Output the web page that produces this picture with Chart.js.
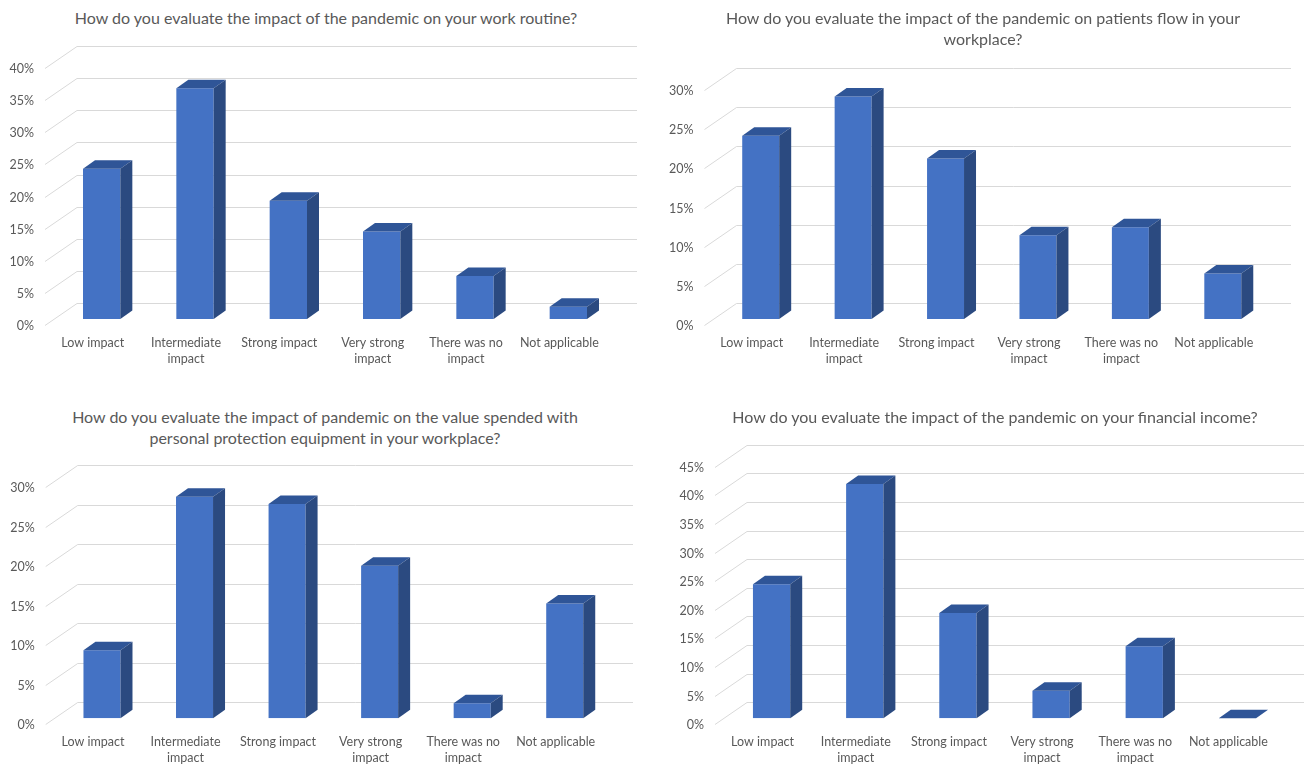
<!DOCTYPE html>
<html>
<head>
<meta charset="utf-8">
<script src="https://cdn.jsdelivr.net/npm/chart.js"></script>
<style>
  body{
    margin:0;
    width:1304px;
    height:766px;
    overflow:hidden;
    position:relative;
    background:#fff;
    font-family:Lato, sans-serif;
  }
  .panel{ position:absolute; }
  .title{
    position:absolute;
    text-align:center;
    color:#595959;
    font-size:16px;
    line-height:21px;
    white-space:nowrap;
  }
</style>
</head>
<body>

<script>
// categories, shared by all four questions
const categories = [
  ['Low impact'],
  ['Intermediate', 'impact'],
  ['Strong impact'],
  ['Very strong', 'impact'],
  ['There was no', 'impact'],
  ['Not applicable']
];

// share of answers (%)
const workRoutine     = [23.4, 35.9, 18.4, 13.6, 6.7, 1.9];
const patientsFlow    = [23.4, 28.4, 20.5, 10.7, 11.7, 5.8];
const protectionSpend = [8.6, 28.0, 27.1, 19.3, 1.9, 14.5];
const financialIncome = [23.4, 40.9, 18.4, 4.8, 12.6, 0];

// top of each value axis, ticks every 5%
const axisMax = [40, 30, 30, 45];
const tickStep = 5;

const titles = [
  ['How do you evaluate the impact of the pandemic on your work routine?'],
  ['How do you evaluate the impact of the pandemic on patients flow in your', 'workplace?'],
  ['How do you evaluate the impact of pandemic on the value spended with', 'personal protection equipment in your workplace?'],
  ['How do you evaluate the impact of the pandemic on your financial income?']
];

const series = [workRoutine, patientsFlow, protectionSpend, financialIncome];

// layout of the four panels (page px)
const panels = [
  { left: 0,   top: 0,   w: 652, h: 383, yAxisW: 55,   padTop: 62,  padRight: 37, xAxisH: 64,   titleX: 326, titleY: 17 },
  { left: 652, top: 0,   w: 652, h: 383, yAxisW: 62.5, padTop: 84,  padRight: 35, xAxisH: 64,   titleX: 983, titleY: 17 },
  { left: 0,   top: 383, w: 652, h: 383, yAxisW: 55.7, padTop: 98,  padRight: 41, xAxisH: 47.7, titleX: 325, titleY: 416 },
  { left: 652, top: 383, w: 652, h: 383, yAxisW: 73,   padTop: 77.6,padRight: 20, xAxisH: 47.7, titleX: 995, titleY: 416 }
];

// 3D look: bar depth, and where the side wall / back wall sit relative to the bar fronts
const BAR_D = { dx: 12, dy: -8.5 };
const FRONT = { dx: -10, dy: 6 };
const BACK  = { dx: 22, dy: -16 };

const FRONT_COL = '#4472C4';
const TOP_COL   = '#2F5597';
const SIDE_COL  = '#2B4A80';
const GRID_COL  = '#d9d9d9';
const TEXT_COL  = '#595959';

function poly(ctx, pts, fill){
  ctx.beginPath();
  ctx.moveTo(pts[0][0], pts[0][1]);
  for (let i = 1; i < pts.length; i++) ctx.lineTo(pts[i][0], pts[i][1]);
  ctx.closePath();
  ctx.fillStyle = fill;
  ctx.fill();
}

const box3d = {
  id: 'box3d',
  beforeDatasetsDraw(chart){
    const ctx = chart.ctx, a = chart.chartArea, y = chart.scales.y;
    ctx.save();
    ctx.strokeStyle = GRID_COL;
    ctx.lineWidth = 1;
    y.ticks.forEach(t => {
      const py = Math.round(y.getPixelForValue(t.value)) + 0.5;
      ctx.beginPath();
      ctx.moveTo(a.left + FRONT.dx, py + FRONT.dy);
      ctx.lineTo(a.left + BACK.dx, py + BACK.dy);
      ctx.lineTo(a.right + BACK.dx, py + BACK.dy);
      ctx.stroke();
    });
    ctx.restore();
  },
  afterDatasetsDraw(chart){
    const ctx = chart.ctx;
    ctx.save();
    chart.getDatasetMeta(0).data.forEach(bar => {
      const p = bar.getProps(['x', 'y', 'base', 'width'], true);
      const l = p.x - p.width / 2, r = p.x + p.width / 2;
      poly(ctx, [[l, p.y], [l + BAR_D.dx, p.y + BAR_D.dy], [r + BAR_D.dx, p.y + BAR_D.dy], [r, p.y]], TOP_COL);
      poly(ctx, [[r, p.y], [r + BAR_D.dx, p.y + BAR_D.dy], [r + BAR_D.dx, p.base + BAR_D.dy], [r, p.base]], SIDE_COL);
    });
    ctx.restore();
  }
};

panels.forEach((pn, i) => {
  const t = document.createElement('div');
  t.className = 'title';
  t.style.left = (pn.titleX - 400) + 'px';
  t.style.width = '800px';
  t.style.top = (pn.titleY - 10.5) + 'px';
  t.innerHTML = titles[i].join('<br>');
  document.body.appendChild(t);

  const wrap = document.createElement('div');
  wrap.className = 'panel';
  wrap.style.left = pn.left + 'px';
  wrap.style.top = pn.top + 'px';
  wrap.style.width = pn.w + 'px';
  wrap.style.height = pn.h + 'px';
  const cv = document.createElement('canvas');
  wrap.appendChild(cv);
  document.body.appendChild(wrap);

  new Chart(cv, {
    type: 'bar',
    data: {
      labels: categories,
      datasets: [{
        data: series[i],
        backgroundColor: FRONT_COL,
        borderWidth: 0,
        categoryPercentage: 1,
        barPercentage: 0.4
      }]
    },
    plugins: [box3d],
    options: {
      responsive: true,
      maintainAspectRatio: false,
      animation: false,
      layout: { padding: { top: pn.padTop, right: pn.padRight, left: 0, bottom: 0 } },
      plugins: { legend: { display: false }, tooltip: { enabled: false } },
      scales: {
        x: {
          grid: { display: false, drawTicks: false },
          border: { display: false },
          ticks: {
            color: TEXT_COL,
            font: { family: 'Lato', size: 12.5, lineHeight: 1.28 },
            padding: 16,
            labelOffset: -9,
            autoSkip: false,
            maxRotation: 0
          },
          afterFit(s){ s.height = pn.xAxisH; }
        },
        y: {
          min: 0,
          max: axisMax[i],
          grid: { display: false, drawTicks: false },
          border: { display: false },
          ticks: {
            stepSize: tickStep,
            color: TEXT_COL,
            font: { family: 'Lato', size: 12.5 },
            padding: 21,
            labelOffset: 7,
            callback: v => v + '%'
          },
          afterFit(s){ s.width = pn.yAxisW; }
        }
      }
    }
  });
});
</script>
</body>
</html>
